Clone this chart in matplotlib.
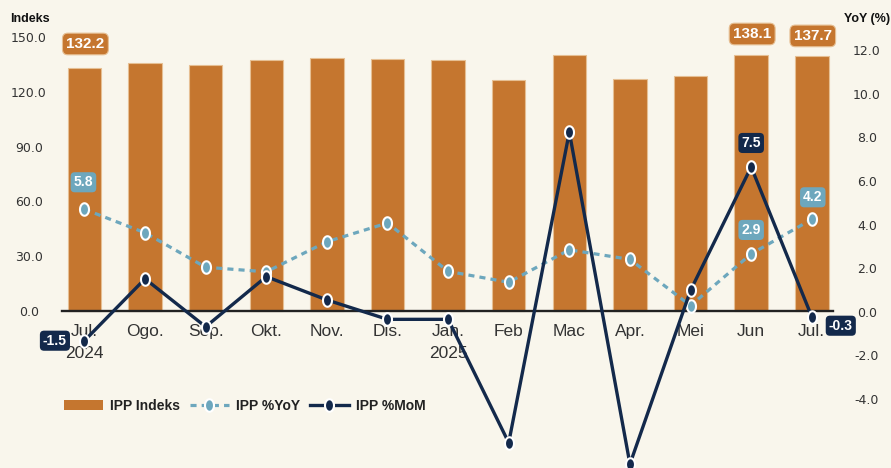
import matplotlib
matplotlib.use('Agg')
import matplotlib.pyplot as plt
from matplotlib.path import Path
from matplotlib.patches import Patch
from matplotlib.lines import Line2D
import numpy as np

# ---- data ----
categories = ['Jul.\n2024', 'Ogo.', 'Sep.', 'Okt.', 'Nov.', 'Dis.', 'Jan.\n2025',
              'Feb', 'Mac', 'Apr.', 'Mei', 'Jun', 'Jul.']
ipp_index = [133.0, 135.9, 134.6, 137.4, 138.3, 137.8, 137.2, 126.3, 140.3, 127.0, 128.6, 140.1, 139.6]
ipp_yoy = [4.70, 3.62, 2.04, 1.83, 3.21, 4.07, 1.85, 1.35, 2.84, 2.40, 0.28, 2.65, 4.24]
ipp_mom = [-1.33, 1.51, -0.69, 1.61, 0.54, -0.35, -0.35, -6.01, 8.24, -6.99, 0.98, 6.64, -0.23]
left_ticks = [0, 30, 60, 90, 120, 150]
right_ticks = [-4, -2, 0, 2, 4, 6, 8, 10, 12]
bar_label_idx = [0, 11, 12]
bar_label_txt = ['132.2', '138.1', '137.7']
yoy_label_idx = [0, 11, 12]
yoy_label_txt = ['5.8', '2.9', '4.2']
mom_label_idx = [0, 11, 12]
mom_label_txt = ['-1.5', '7.5', '-0.3']
legend_labels = ['IPP Indeks', 'IPP %YoY', 'IPP %MoM']

# ---- style ----
BG = '#F9F6EC'
BAR = '#C5762F'
YOY = '#6DA7BD'
MOM = '#13294B'
TXT = '#333333'
SANS = ['Liberation Sans', 'DejaVu Sans']

W, H = 891, 468
fig = plt.figure(figsize=(W / 100, H / 100), dpi=100, facecolor=BG)
ax = fig.add_axes([62 / W, 0, 771 / W, 1])
ax.set_facecolor(BG)
ax2 = ax.twinx()

x = np.arange(len(categories))
ax.bar(x, ipp_index, width=0.553, color=BAR, edgecolor='#E6BF93', linewidth=0.8, zorder=1)

ax.set_xlim(-0.37, 12.35)
ax.set_ylim(-85.9, 170.2)
ax2.set_ylim(-7.17, 14.30)

for s in ['top', 'left', 'right']:
    ax.spines[s].set_visible(False)
for s in ['top', 'left', 'right', 'bottom']:
    ax2.spines[s].set_visible(False)
ax.spines['bottom'].set_position(('data', 0))
ax.spines['bottom'].set_color('#222222')
ax.spines['bottom'].set_linewidth(1.7)

ax.set_xticks(x, categories)
ax.tick_params(axis='x', length=0, pad=9.5, labelsize=12.5, labelcolor=TXT)
for t in ax.get_xticklabels():
    t.set_family(SANS)
    t.set_linespacing(1.55)

ax.set_yticks(left_ticks, [f'{v:.1f}' for v in left_ticks])
ax.tick_params(axis='y', length=0, pad=23.8, labelsize=9, labelcolor=TXT)
for t in ax.get_yticklabels():
    t.set_ha('center')
    t.set_family('DejaVu Sans')

ax2.set_yticks(right_ticks, [f'{v:.1f}' for v in right_ticks])
ax2.tick_params(axis='y', length=0, pad=24.5, labelsize=9, labelcolor=TXT)
for t in ax2.get_yticklabels():
    t.set_ha('center')
    t.set_family('DejaVu Sans')

# elliptical marker
tt = np.linspace(0, 2 * np.pi, 60)
ell = Path(np.c_[0.72 * np.cos(tt), np.sin(tt)], closed=True)

ax2.plot(x, ipp_yoy, color=YOY, lw=2.3, ls=(0, (1.9, 1.6)), marker=ell, ms=9,
         mfc=YOY, mec='white', mew=1.5, zorder=3, clip_on=False)
ax2.plot(x, ipp_mom, color=MOM, lw=2.4, marker=ell, ms=9,
         mfc=MOM, mec='white', mew=1.5, zorder=4, clip_on=False)

# data labels
bar_off = [24, 21, 20]
for i, txt, dy in zip(bar_label_idx, bar_label_txt, bar_off):
    ax.annotate(txt, xy=(i, ipp_index[i]), xytext=(1, dy), textcoords='offset pixels',
                ha='center', va='center', color='white', fontsize=11, fontweight='bold',
                family=SANS, zorder=6,
                bbox=dict(boxstyle='round,pad=0.25,rounding_size=0.35', fc=BAR, ec='#E6BF93', lw=0.8))

yoy_off = [(-1, 27), (0, 24), (1, 22)]
for i, txt, (dx, dy) in zip(yoy_label_idx, yoy_label_txt, yoy_off):
    ax2.annotate(txt, xy=(i, ipp_yoy[i]), xytext=(dx, dy), textcoords='offset pixels',
                 ha='center', va='center', color='white', fontsize=10, fontweight='bold',
                 family=SANS, zorder=6,
                 bbox=dict(boxstyle='round,pad=0.22,rounding_size=0.3', fc=YOY, ec='none'))

mom_off = [(-29.5, 0), (0, 24), (29, -9)]
for i, txt, (dx, dy) in zip(mom_label_idx, mom_label_txt, mom_off):
    ax2.annotate(txt, xy=(i, ipp_mom[i]), xytext=(dx, dy), textcoords='offset pixels',
                 ha='center', va='center', color='white', fontsize=10, fontweight='bold',
                 family=SANS, zorder=6, annotation_clip=False,
                 bbox=dict(boxstyle='round,pad=0.22,rounding_size=0.3', fc=MOM, ec='none'))

# axis titles
fig.text(30 / W, 1 - 19 / H, 'Indeks', ha='center', va='center', fontsize=9,
         fontweight='bold', family=SANS, color='#111111')
fig.text(867 / W, 1 - 19 / H, 'YoY (%)', ha='center', va='center', fontsize=9,
         fontweight='bold', family=SANS, color='#111111')

# legend
handles = [Patch(facecolor=BAR, edgecolor='none'),
           Line2D([], [], color=YOY, lw=2.3, ls=(0, (1.9, 1.6)), marker=ell, ms=9,
                  mfc=YOY, mec='white', mew=1.5),
           Line2D([], [], color=MOM, lw=2.4, marker=ell, ms=9, mfc=MOM, mec='white', mew=1.5)]
fig.legend(handles, legend_labels, loc='center left', bbox_to_anchor=(64 / W, 1 - 405.7 / H),
           frameon=False, ncol=3, handlelength=2.8, handletextpad=0.5, columnspacing=0.72,
           borderpad=0, borderaxespad=0,
           prop=dict(family=SANS, weight='bold', size=10), labelcolor='#222222')

fig.savefig('out.png', dpi=100, facecolor=BG)
